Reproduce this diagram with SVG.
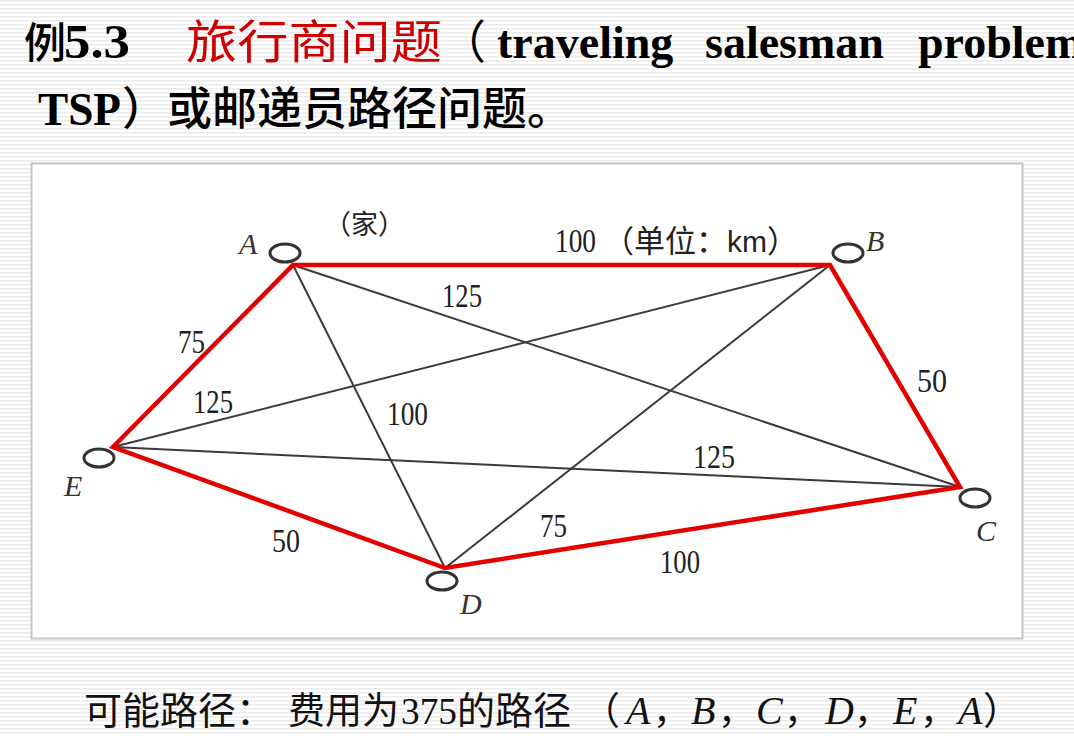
<svg xmlns="http://www.w3.org/2000/svg" width="1074" height="736" viewBox="0 0 1074 736">
<defs>
<pattern id="stripes" width="8" height="4" patternUnits="userSpaceOnUse">
<rect width="8" height="4" fill="#ffffff"/>
<rect y="0" width="8" height="1.6" fill="#ececec"/>
</pattern>
</defs>
<style>
.cjk{font-family:"Noto Sans CJK SC","Liberation Serif",serif;}
.ser{font-family:"Liberation Serif","Noto Sans CJK SC",serif;}
.num{font-family:"Liberation Serif",serif;font-size:34px;fill:#222;}
.lbl{font-family:"Liberation Serif",serif;font-style:italic;font-size:30px;fill:#333;}
.red{fill:none;stroke:#e30000;stroke-width:4.5;stroke-linejoin:miter;}
.gray{fill:none;stroke:#3a3a3a;stroke-width:2;}
.node{fill:#fff;stroke:#333;stroke-width:3;}
</style>
<rect width="1074" height="736" fill="url(#stripes)"/>
<rect x="31.5" y="163.5" width="991" height="475" fill="#ffffff" stroke="#c4c4c4" stroke-width="2"/>

<g id="title">
<text class="cjk" x="24" y="58" font-size="42" font-weight="500" fill="#000">例</text>
<text class="ser" x="64" y="58" font-size="48" font-weight="bold" fill="#000" textLength="66" lengthAdjust="spacingAndGlyphs">5.3</text>
<text class="cjk" x="186" y="58" font-size="46" fill="#cc0000" textLength="256" lengthAdjust="spacingAndGlyphs">旅行商问题</text>
<text class="cjk" x="440" y="58" font-size="46" fill="#000">（</text>
<text class="ser" y="58" font-size="46" font-weight="bold" fill="#000"><tspan x="497">traveling</tspan><tspan x="705">salesman</tspan><tspan x="918">problem</tspan></text>
<text class="ser" x="38" y="125" font-size="46" font-weight="bold" fill="#000" textLength="83" lengthAdjust="spacingAndGlyphs">TSP</text>
<text class="cjk" x="122" y="125" font-size="45" font-weight="500" fill="#000">）或邮递员路径问题。</text>
</g>

<g id="connectors">
<line class="gray" x1="293" y1="265" x2="960" y2="487"/>
<line class="gray" x1="293" y1="265" x2="445" y2="568"/>
<line class="gray" x1="113" y1="447" x2="830" y2="265"/>
<line class="gray" x1="113" y1="447" x2="960" y2="487"/>
<line class="gray" x1="445" y1="568" x2="830" y2="265"/>
<polygon class="red" points="293,265 830,265 960,487 445,568 113,447"/>
</g>

<g id="edge-labels">
<text class="num" x="555" y="252" textLength="41" lengthAdjust="spacingAndGlyphs">100</text>
<text class="cjk" x="603" y="252" font-size="31" fill="#222">（单位：<tspan font-family="Liberation Sans, sans-serif" font-size="30">km</tspan>）</text>
<text class="num" x="442" y="307" textLength="40" lengthAdjust="spacingAndGlyphs">125</text>
<text class="num" x="178" y="353" textLength="27" lengthAdjust="spacingAndGlyphs">75</text>
<text class="num" x="193" y="413" textLength="40" lengthAdjust="spacingAndGlyphs">125</text>
<text class="num" x="387" y="425" textLength="41" lengthAdjust="spacingAndGlyphs">100</text>
<text class="num" x="917" y="392" textLength="30" lengthAdjust="spacingAndGlyphs">50</text>
<text class="num" x="693" y="468" textLength="42" lengthAdjust="spacingAndGlyphs">125</text>
<text class="num" x="540" y="537" textLength="27" lengthAdjust="spacingAndGlyphs">75</text>
<text class="num" x="660" y="573" textLength="40" lengthAdjust="spacingAndGlyphs">100</text>
<text class="num" x="272" y="552" textLength="28" lengthAdjust="spacingAndGlyphs">50</text>
</g>

<g id="node-A">
<ellipse class="node" cx="285" cy="253" rx="15" ry="9"/>
<text class="lbl" x="239" y="254">A</text>
<text class="cjk" x="324" y="234" font-size="27" fill="#222">（家）</text>
</g>
<g id="node-B">
<ellipse class="node" cx="848" cy="253" rx="15" ry="9"/>
<text class="lbl" x="866" y="251">B</text>
</g>
<g id="node-C">
<ellipse class="node" cx="975" cy="498" rx="15" ry="9"/>
<text class="lbl" x="976" y="541">C</text>
</g>
<g id="node-D">
<ellipse class="node" cx="442" cy="581" rx="15" ry="9"/>
<text class="lbl" x="460" y="614">D</text>
</g>
<g id="node-E">
<ellipse class="node" cx="99" cy="458" rx="15" ry="9"/>
<text class="lbl" x="64" y="496">E</text>
</g>

<g id="caption" fill="#111">
<text class="cjk" x="84" y="724" font-size="38">可能路径：</text>
<text class="cjk" x="288" y="724" font-size="37">费用为</text>
<text class="ser" x="401" y="724" font-size="38" textLength="56" lengthAdjust="spacingAndGlyphs">375</text>
<text class="cjk" x="457" y="724" font-size="38">的路径</text>
<text class="cjk" x="582" y="724" font-size="38">（</text>
<text class="ser" y="724" font-size="40" font-style="italic"><tspan x="626">A</tspan><tspan x="691">B</tspan><tspan x="756">C</tspan><tspan x="825">D</tspan><tspan x="893">E</tspan><tspan x="958">A</tspan></text>
<text class="cjk" y="724" font-size="36"><tspan x="653">，</tspan><tspan x="718">，</tspan><tspan x="784">，</tspan><tspan x="854">，</tspan><tspan x="920">，</tspan></text>
<text class="cjk" x="983" y="724" font-size="38">）</text>
</g>
</svg>
